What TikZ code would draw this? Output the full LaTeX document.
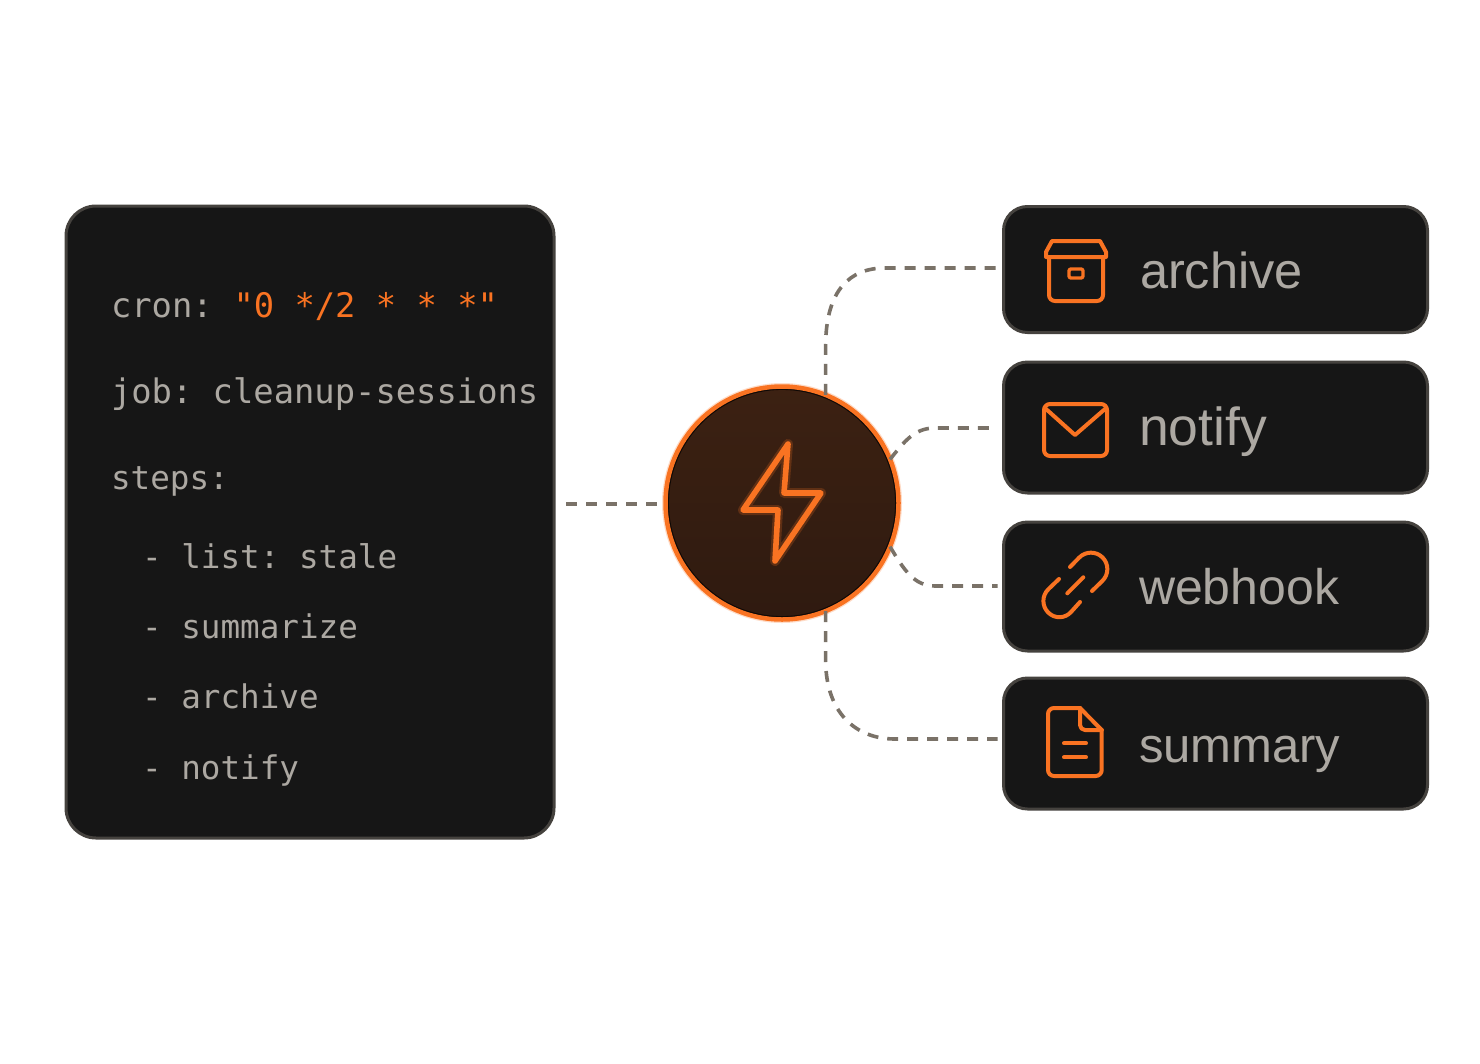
\documentclass[tikz,border=0pt]{standalone}
\usepackage{fontspec}
\setmainfont{Liberation Sans}
\setmonofont{DejaVu Sans Mono}
\usetikzlibrary{calc}
\definecolor{cardfill}{HTML}{161616}
\definecolor{cardedge}{HTML}{45423E}
\definecolor{txt}{HTML}{ACA8A2}
\definecolor{accent}{HTML}{F97322}
\definecolor{hubtop}{HTML}{3C2112}
\definecolor{hubbot}{HTML}{2F1A10}
\definecolor{dashc}{HTML}{7A7268}
\newcommand{\mono}[1]{\fontsize{#1}{#1}\selectfont\ttfamily}
\newcommand{\lab}[1]{\fontsize{#1}{#1}\selectfont}
\tikzset{
  x=1pt,y=-1pt,
  cardbox/.style={draw=cardedge,line width=3pt,fill=cardfill,rounded corners=24pt,minimum width=424pt,inner sep=0pt,outer sep=0pt},
  codetext/.style={anchor=base west,inner sep=0pt,outer sep=0pt,text=txt},
  labeltext/.style={anchor=base west,inner sep=0pt,outer sep=0pt,text=txt},
  icon/.style={draw=accent,line width=4pt,line cap=round,line join=round},
  conn/.style={draw=dashc,line width=3.6pt,dash pattern=on 11pt off 9pt},
}
\begin{document}
\begin{tikzpicture}
\useasboundingbox[fill=white] (0,0) rectangle (1480,1063);
% code card
\node[draw=cardedge,line width=3pt,fill=cardfill,rounded corners=30pt,minimum width=488pt,minimum height=632pt,inner sep=0pt,outer sep=0pt] (code) at (310,522) {};
\node[codetext,font=\mono{33.8}] (l1) at (111,317) {cron:};
\node[codetext,font=\mono{33.8},text=accent] (l1b) at (233.5,317) {"0 */2 * * *"};
\node[codetext,font=\mono{33.8}] (l2) at (111,403) {job: cleanup-sessions};
\node[codetext,font=\mono{32.6}] (l3) at (111,489) {steps:};
\node[codetext,font=\mono{32.6}] (l4) at (142,568) {- list: stale};
\node[codetext,font=\mono{32.6}] (l5) at (142,638) {- summarize};
\node[codetext,font=\mono{32.6}] (l6) at (142,708) {- archive};
\node[codetext,font=\mono{32.6}] (l7) at (142,779) {- notify};
% action cards
\node[cardbox,minimum height=126pt] (arch) at (1215.5,269.5) {};
\node[cardbox,minimum height=131pt] (noti) at (1215.5,427.5) {};
\node[cardbox,minimum height=129pt] (webh) at (1215.5,586.5) {};
\node[cardbox,minimum height=131pt] (summ) at (1215.5,743.5) {};
\node[labeltext,font=\lab{50.5}] (t1) at (1140,288) {archive};
\node[labeltext,font=\lab{53.5}] (t2) at (1139,445) {notify};
\node[labeltext,font=\lab{50}] (t3) at (1139,604) {webhook};
\node[labeltext,font=\lab{49}] (t4) at (1139,762) {summary};
% hub
\node[circle,draw=accent!25,line width=7pt,minimum size=233pt,inner sep=0pt,outer sep=0pt] (hubglow) at (782,503) {};
\node[circle,draw=accent,line width=4.5pt,top color=hubtop,bottom color=hubbot,minimum size=233pt,inner sep=0pt,outer sep=0pt] (hub) at (782,503) {};
\node[circle,draw=black!70!hubbot,line width=0.8pt,minimum size=227pt,inner sep=0pt] (hubin) at (782,503) {};
% bolt
\draw[accent,opacity=.22,line width=10pt,line join=round] (788,444) -- (784,493) -- (821,493) -- (775,561) -- (778,510) -- (743,510) -- cycle;
\draw[icon,line width=5.6pt] (788,444) -- (784,493) -- (821,493) -- (775,561) -- (778,510) -- (743,510) -- cycle;
% connectors
\draw[conn] ([xshift=12pt]code.east |- 0,504) -- ([xshift=-4pt]hub.west |- 0,504);
\draw[conn] (hub.68.7) -- ++(0,-50) .. controls (826,290) and (850,268) .. (885,268) -- ([xshift=-6pt]arch.west |- 0,268);
\draw[conn] (hub.22.2) .. controls (904,442) and (914,428) .. (935,428) -- ([xshift=-6pt]noti.west |- 0,428);
\draw[conn] (hub.-22.2) .. controls (904,570) and (914,586) .. (935,586) -- ([xshift=-6pt]webh.west |- 0,586);
\draw[conn] (hub.-68.7) -- ++(0,50) .. controls (826,712) and (855,739) .. (895,739) -- ([xshift=-6pt]summ.west |- 0,739);
% archive icon
\draw[icon,fill=none] (1052,241) -- (1100,241) -- (1106,252) -- (1106,257) -- (1046,257) -- (1046,252) -- cycle;
\draw[icon,rounded corners=6pt] (1049,257) -- (1049,301) -- (1103,301) -- (1103,257);
\draw[icon,line width=3.4pt,rounded corners=2pt] (1069,269) rectangle (1083,278);
% envelope
\draw[icon,rounded corners=6pt] (1044,404) rectangle (1107,456);
\draw[icon] (1046,409) -- (1075,435) -- (1105,409);
% link
\draw[icon,rounded corners=16.7pt] (1070,567) -- (1090.8,545.7) -- (1114.3,569.2) -- (1092,591);
\draw[icon,rounded corners=16.7pt] (1059,579) -- (1036.4,600.7) -- (1060,624.3) -- (1080,602);
\draw[icon] (1067.3,593.3) -- (1083.3,577.3);
% document
\draw[icon,rounded corners=6pt] (1080,708) -- (1048,708) -- (1048,776) -- (1101.7,776) -- (1101.7,730);
\draw[icon] (1080,708) -- (1101.7,730);
\draw[icon,rounded corners=5pt] (1080,708) -- (1080,730) -- (1101.7,730);
\draw[icon] (1064,743.3) -- (1086,743.3);
\draw[icon] (1064,757.3) -- (1086,757.3);
\end{tikzpicture}
\end{document}
